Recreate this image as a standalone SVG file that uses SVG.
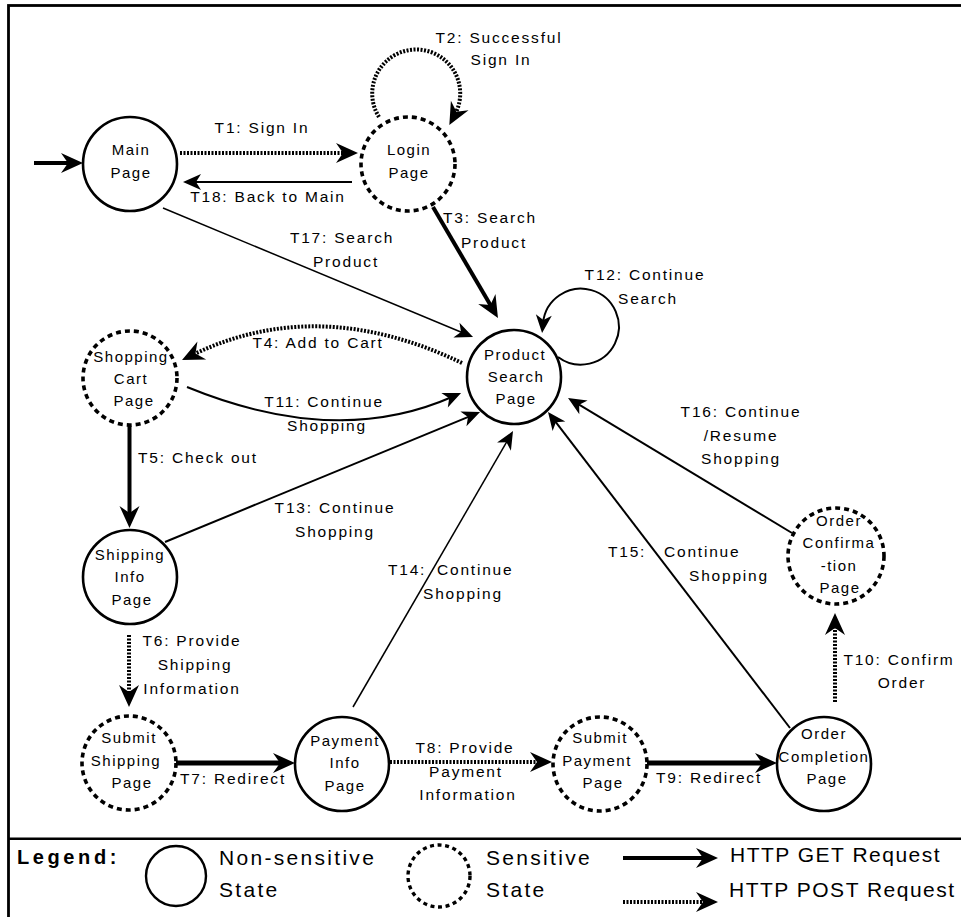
<svg xmlns="http://www.w3.org/2000/svg" width="961" height="917" viewBox="0 0 961 917">
<style>
.n{fill:#fff;stroke:#000;stroke-width:2.6}
.s{fill:#fff;stroke:#000;stroke-width:3.6;stroke-dasharray:5 4}
.t{font-family:"Liberation Sans",Arial,sans-serif;font-size:15px;letter-spacing:1.5px;text-anchor:middle;fill:#000}
.e{font-family:"Liberation Sans",Arial,sans-serif;font-size:15.5px;letter-spacing:1.8px;text-anchor:middle;fill:#000}
.es{text-anchor:start}
.g{fill:none;stroke:#000;stroke-width:2}
.g1{fill:none;stroke:#000;stroke-width:1.5}
.gt{fill:none;stroke:#000;stroke-width:4}
.gx{fill:none;stroke:#000;stroke-width:5}
.p{fill:none;stroke:#000;stroke-width:4;stroke-dasharray:2 1.5}
.lg{font-family:"Liberation Sans",Arial,sans-serif;font-size:21px;fill:#000}
</style>
<defs>
<marker id="big" markerUnits="userSpaceOnUse" markerWidth="40" markerHeight="40" viewBox="-20 -20 40 40" refX="0" refY="0" orient="auto" overflow="visible">
<path d="M12,0 L-10,-10 L-3,0 L-10,10 Z" fill="#000"/>
</marker>
<marker id="sm" markerUnits="userSpaceOnUse" markerWidth="40" markerHeight="40" viewBox="-20 -20 40 40" refX="0" refY="0" orient="auto" overflow="visible">
<path d="M10,0 L-8,-8 L-3,0 L-8,8 Z" fill="#000"/>
</marker>
</defs>
<rect x="0" y="0" width="961" height="917" fill="#fff"/>
<rect x="8.5" y="5.5" width="1000" height="1000" fill="none" stroke="#000" stroke-width="2.8"/>
<line x1="8" y1="838.7" x2="961" y2="838.7" stroke="#000" stroke-width="2.6"/>

<g id="connectors">
<path class="gt" d="M34,163 L71,163" marker-end="url(#big)"/>
<path class="p" d="M180,153 L346,153" marker-end="url(#big)"/>
<path class="g" d="M352,182 L193,182" marker-end="url(#sm)"/>
<path class="p" d="M379,117 A44,44 0 1 1 455,114.3" marker-end="url(#big)"/>
<path class="gt" d="M433,207 L491.9,307.6" marker-end="url(#big)"/>
<path class="g1" d="M163,208 L463.8,333.2" marker-end="url(#sm)"/>
<path class="g" d="M558,357 A38,38 0 1 0 543.05,323" marker-end="url(#sm)"/>
<path class="p" d="M462,363 Q318,294 192.8,354.8" marker-end="url(#big)"/>
<path class="g" d="M187,387 Q336,448 451.9,397" marker-end="url(#sm)"/>
<path class="gt" d="M129.5,426 L129.5,516" marker-end="url(#big)"/>
<path class="g" d="M165,542 L470.8,415.8" marker-end="url(#sm)"/>
<path class="g1" d="M353,707 L508,439.7" marker-end="url(#sm)"/>
<path class="g" d="M790,728 L554.1,419.9" marker-end="url(#sm)"/>
<path class="g" d="M792,533 L576.6,403.2" marker-end="url(#sm)"/>
<path class="p" d="M129,635 L129,695" marker-end="url(#big)"/>
<path class="gx" d="M176,763 L283,763" marker-end="url(#big)"/>
<path class="p" d="M390,762 L540,762" marker-end="url(#big)"/>
<path class="gx" d="M647,763 L765,763" marker-end="url(#big)"/>
<path class="p" d="M835,702 L835,625" marker-end="url(#big)"/>
</g>

<g id="labels">
<text class="e" x="262" y="133">T1: Sign In</text>
<text class="e" x="268" y="202">T18: Back to Main</text>
<text class="e" x="342" y="243">T17: Search</text>
<text class="e" x="346" y="267">Product</text>
<text class="e" x="499" y="43">T2: Successful</text>
<text class="e" x="501" y="65">Sign In</text>
<text class="e" x="490" y="223">T3: Search</text>
<text class="e" x="494" y="248">Product</text>
<text class="e" x="645" y="280">T12: Continue</text>
<text class="e" x="648" y="304">Search</text>
<text class="e" x="318" y="348">T4: Add to Cart</text>
<text class="e" x="324" y="407">T11: Continue</text>
<text class="e" x="327" y="431">Shopping</text>
<text class="e es" x="138" y="463">T5: Check out</text>
<text class="e" x="335" y="513">T13: Continue</text>
<text class="e" x="335" y="537">Shopping</text>
<text class="e es" x="388" y="575">T14:<tspan x="437">Continue</tspan></text>
<text class="e es" x="423" y="599">Shopping</text>
<text class="e es" x="608" y="557">T15:<tspan x="664">Continue</tspan></text>
<text class="e es" x="689" y="581">Shopping</text>
<text class="e" x="741" y="417">T16: Continue</text>
<text class="e" x="741" y="441">/Resume</text>
<text class="e" x="741" y="464">Shopping</text>
<text class="e" x="192" y="646">T6: Provide</text>
<text class="e" x="195" y="670">Shipping</text>
<text class="e" x="192" y="694">Information</text>
<text class="e" x="233" y="784">T7: Redirect</text>
<text class="e" x="465" y="753">T8: Provide</text>
<text class="e" x="466" y="777">Payment</text>
<text class="e" x="468" y="800">Information</text>
<text class="e" x="709" y="783">T9: Redirect</text>
<text class="e" x="899" y="665">T10: Confirm</text>
<text class="e" x="902" y="688">Order</text>
</g>

<g id="main-page">
<circle class="n" cx="130" cy="164" r="47"/>
<text class="t" x="131" y="155">Main</text>
<text class="t" x="131" y="178">Page</text>
</g>
<g id="login-page">
<circle class="s" cx="408" cy="164" r="47"/>
<text class="t" x="409" y="155">Login</text>
<text class="t" x="409" y="178">Page</text>
</g>
<g id="product-search-page">
<circle class="n" cx="514" cy="377" r="47"/>
<text class="t" x="515" y="360">Product</text>
<text class="t" x="516" y="382">Search</text>
<text class="t" x="516" y="404">Page</text>
</g>
<g id="shopping-cart-page">
<circle class="s" cx="130" cy="378" r="47"/>
<text class="t" x="131" y="362">Shopping</text>
<text class="t" x="131" y="384">Cart</text>
<text class="t" x="134" y="406">Page</text>
</g>
<g id="shipping-info-page">
<circle class="n" cx="130" cy="577" r="47"/>
<text class="t" x="130" y="560">Shipping</text>
<text class="t" x="130" y="582">Info</text>
<text class="t" x="132" y="605">Page</text>
</g>
<g id="submit-shipping-page">
<circle class="s" cx="129" cy="763" r="47"/>
<text class="t" x="129" y="743">Submit</text>
<text class="t" x="126" y="766">Shipping</text>
<text class="t" x="132" y="788">Page</text>
</g>
<g id="payment-info-page">
<circle class="n" cx="342" cy="764" r="47"/>
<text class="t" x="345" y="746">Payment</text>
<text class="t" x="345" y="768">Info</text>
<text class="t" x="345" y="791">Page</text>
</g>
<g id="submit-payment-page">
<circle class="s" cx="600" cy="764" r="47"/>
<text class="t" x="600" y="743">Submit</text>
<text class="t" x="597" y="766">Payment</text>
<text class="t" x="603" y="788">Page</text>
</g>
<g id="order-completion-page">
<circle class="n" cx="824" cy="764" r="47"/>
<text class="t" x="824" y="739">Order</text>
<text class="t" x="824" y="762">Completion</text>
<text class="t" x="827" y="784">Page</text>
</g>
<g id="order-confirmation-page">
<circle class="s" cx="836" cy="556" r="48"/>
<text class="t" x="839" y="526">Order</text>
<text class="t" x="839" y="548">Confirma</text>
<text class="t" x="839" y="571">-tion</text>
<text class="t" x="840" y="593">Page</text>
</g>

<g id="legend">
<text x="17" y="864" style="font-family:'Liberation Sans',Arial,sans-serif;font-size:20px;font-weight:bold;letter-spacing:3.6px">Legend:</text>
<circle cx="176" cy="876" r="30" fill="#fff" stroke="#000" stroke-width="2.4"/>
<text class="lg" x="219" y="865" style="letter-spacing:2.3px">Non-sensitive</text>
<text class="lg" x="219" y="897" style="letter-spacing:2.3px">State</text>
<circle cx="439" cy="876" r="31" fill="#fff" stroke="#000" stroke-width="3.4" stroke-dasharray="4 3.6"/>
<text class="lg" x="486" y="865" style="letter-spacing:2.3px">Sensitive</text>
<text class="lg" x="486" y="897" style="letter-spacing:2.3px">State</text>
<path class="gt" d="M623,858 L706,858" marker-end="url(#big)"/>
<text class="lg" x="730" y="862" style="letter-spacing:1.5px">HTTP GET Request</text>
<path class="p" d="M623,902 L706,902" marker-end="url(#big)"/>
<text class="lg" x="729" y="897" style="letter-spacing:1.5px">HTTP POST Request</text>
</g>
</svg>
